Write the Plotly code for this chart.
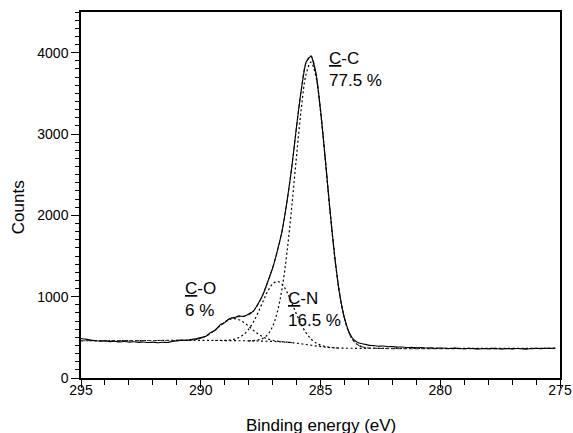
import plotly.graph_objects as go

# Binding energy grid of the measured C 1s spectrum (eV)
energy = [
    295.0, 294.8, 294.6, 294.4, 294.2, 294.0, 293.8, 293.6, 293.4, 293.2,
    293.0, 292.8, 292.6, 292.4, 292.2, 292.0, 291.8, 291.6, 291.4, 291.2,
    291.0, 290.8, 290.6, 290.4, 290.2, 290.0, 289.8, 289.6, 289.4, 289.2,
    289.0, 288.8, 288.6, 288.4, 288.2, 288.0, 287.8, 287.6, 287.4, 287.2,
    287.0, 286.8, 286.6, 286.4, 286.2, 286.0, 285.8, 285.6, 285.4, 285.2,
    285.0, 284.8, 284.6, 284.4, 284.2, 284.0, 283.8, 283.6, 283.4, 283.2,
    283.0, 282.8, 282.6, 282.4, 282.2, 282.0, 281.8, 281.6, 281.4, 281.2,
    281.0, 280.8, 280.6, 280.4, 280.2, 280.0, 279.8, 279.6, 279.4, 279.2,
    279.0, 278.8, 278.6, 278.4, 278.2, 278.0, 277.8, 277.6, 277.4, 277.2,
    277.0, 276.8, 276.6, 276.4, 276.2, 276.0, 275.8, 275.6, 275.4, 275.2,
]

# Measured counts
measured = [
    486, 478, 466, 458, 452, 456, 447, 451, 444, 449,
    441, 446, 438, 443, 436, 441, 434, 440, 437, 448,
    455, 466, 461, 474, 482, 497, 509, 557, 585, 652,
    681, 731, 741, 764, 756, 786, 821, 917, 1026, 1188,
    1349, 1566, 1813, 2170, 2588, 3094, 3546, 3884, 3955, 3762,
    3296, 2694, 2052, 1478, 1030, 739, 561, 468, 431, 419,
    404, 398, 391, 394, 385, 387, 379, 382, 374, 377,
    371, 374, 368, 371, 365, 369, 366, 362, 367, 363,
    360, 365, 361, 358, 363, 359, 364, 360, 356, 362,
    358, 363, 359, 355, 361, 364, 360, 366, 362, 367,
]

# Fit region 291.0 .. 283.0 eV (same grid as energy[20:61])
fit_energy = energy[20:61]

background = [
    462, 462, 462, 462, 462, 462, 462, 462, 461, 461,
    460, 460, 459, 458, 458, 457, 456, 455, 453, 452,
    450, 447, 444, 440, 435, 428, 421, 412, 403, 394,
    386, 379, 374, 370, 368, 366, 366, 365, 365, 365,
    365,
]

# component intensities above the background
cc_peak = [
    0, 0, 0, 0, 0, 0, 0, 0, 0, 0,
    0, 0, 0, 0, 0, 0, 4, 14, 35, 85,
    184, 367, 666, 1104, 1669, 2302, 2896, 3324, 3480, 3324,
    2896, 2302, 1669, 1104, 666, 367, 184, 85, 35, 14,
    4,
]
cn_peak = [
    0, 0, 0, 0, 0, 0, 0, 0, 0, 1,
    3, 7, 18, 39, 78, 142, 235, 355, 490, 616,
    707, 740, 707, 616, 490, 355, 235, 142, 78, 39,
    18, 7, 3, 1, 0, 0, 0, 0, 0, 0,
    0,
]
co_peak = [
    0, 1, 3, 7, 14, 28, 52, 86, 130, 179,
    225, 258, 270, 258, 225, 179, 130, 86, 52, 28,
    14, 7, 3, 1, 0, 0, 0, 0, 0, 0,
    0, 0, 0, 0, 0, 0, 0, 0, 0, 0,
    0,
]

# background level outside the fit window
bg_left, bg_right = 458, 365

labels = ["<u>C</u>-C<br>77.5 %", "<u>C</u>-N<br>16.5 %", "<u>C</u>-O<br>6 %"]
label_x = [284.72, 286.46, 290.74]
label_y = [3787, 845, 963]

FONT = "Liberation Sans, Arial, sans-serif"

envelope = [b + a + n + o for b, a, n, o in zip(background, cc_peak, cn_peak, co_peak)]

fig = go.Figure()

dotted = dict(color="black", width=1.2, dash="2px,2.5px", shape="spline")

# background and fitted components (dotted)
fig.add_trace(go.Scatter(
    x=[energy[0]] + fit_energy + [energy[-1]],
    y=[bg_left] + background + [bg_right],
    mode="lines", line=dotted,
))
for peak in (cc_peak, cn_peak, co_peak):
    idx = [i for i, v in enumerate(peak) if v > 0]
    lo, hi = max(idx[0] - 1, 0), min(idx[-1] + 1, len(peak) - 1)
    fig.add_trace(go.Scatter(
        x=fit_energy[lo:hi + 1],
        y=[background[i] + peak[i] for i in range(lo, hi + 1)],
        mode="lines", line=dotted,
    ))

# fit envelope (dashed)
fig.add_trace(go.Scatter(
    x=[energy[0]] + fit_energy + [energy[-1]],
    y=[bg_left] + envelope + [bg_right],
    mode="lines", line=dict(color="#333333", width=1.1, dash="4px,2px", shape="spline"),
))

# measured spectrum
fig.add_trace(go.Scatter(
    x=energy, y=measured, mode="lines",
    line=dict(color="black", width=1.1, shape="spline", smoothing=0.5),
))

for txt, lx, ly in zip(labels, label_x, label_y):
    fig.add_annotation(x=lx, y=ly, text=txt, showarrow=False, xanchor="left",
                       yanchor="middle", align="left",
                       font=dict(family=FONT, size=17, color="black"))

# axis titles
fig.add_annotation(x=0.5, y=-0.098, xref="paper", yref="paper", text="Binding energy (eV)",
                   showarrow=False, xanchor="center", yanchor="top",
                   font=dict(family=FONT, size=17, color="black"))
fig.add_annotation(x=-0.13, y=0.466, xref="paper", yref="paper", text="Counts",
                   showarrow=False, textangle=-90, xanchor="center", yanchor="middle",
                   font=dict(family=FONT, size=17, color="black"))

axis_style = dict(
    showline=True, linecolor="black", linewidth=1.5, mirror=True,
    ticks="outside", ticklen=8, tickwidth=1.3, tickcolor="black",
    showgrid=False, zeroline=False, automargin=False,
    tickfont=dict(family=FONT, size=14, color="black"),
)

fig.update_xaxes(range=[295, 275], tick0=275, dtick=5, ticklabelstandoff=-10,
                 minor=dict(ticks="outside", ticklen=5, dtick=1, tickcolor="black", tickwidth=1.2),
                 **axis_style)
fig.update_yaxes(range=[0, 4500], tick0=0, dtick=1000,
                 minor=dict(ticks="outside", ticklen=4, dtick=100, tickcolor="black", tickwidth=1.2),
                 **axis_style)

fig.update_layout(
    width=573, height=433,
    margin=dict(l=81, r=13, t=12, b=55),
    plot_bgcolor="white", paper_bgcolor="white",
    showlegend=False, hovermode=False,
)

# drop the default page margin so the figure fills the window exactly
fig.write_html("out.html", config={"displayModeBar": False},
               post_script="document.body.style.margin='0';document.body.style.overflow='hidden';")
